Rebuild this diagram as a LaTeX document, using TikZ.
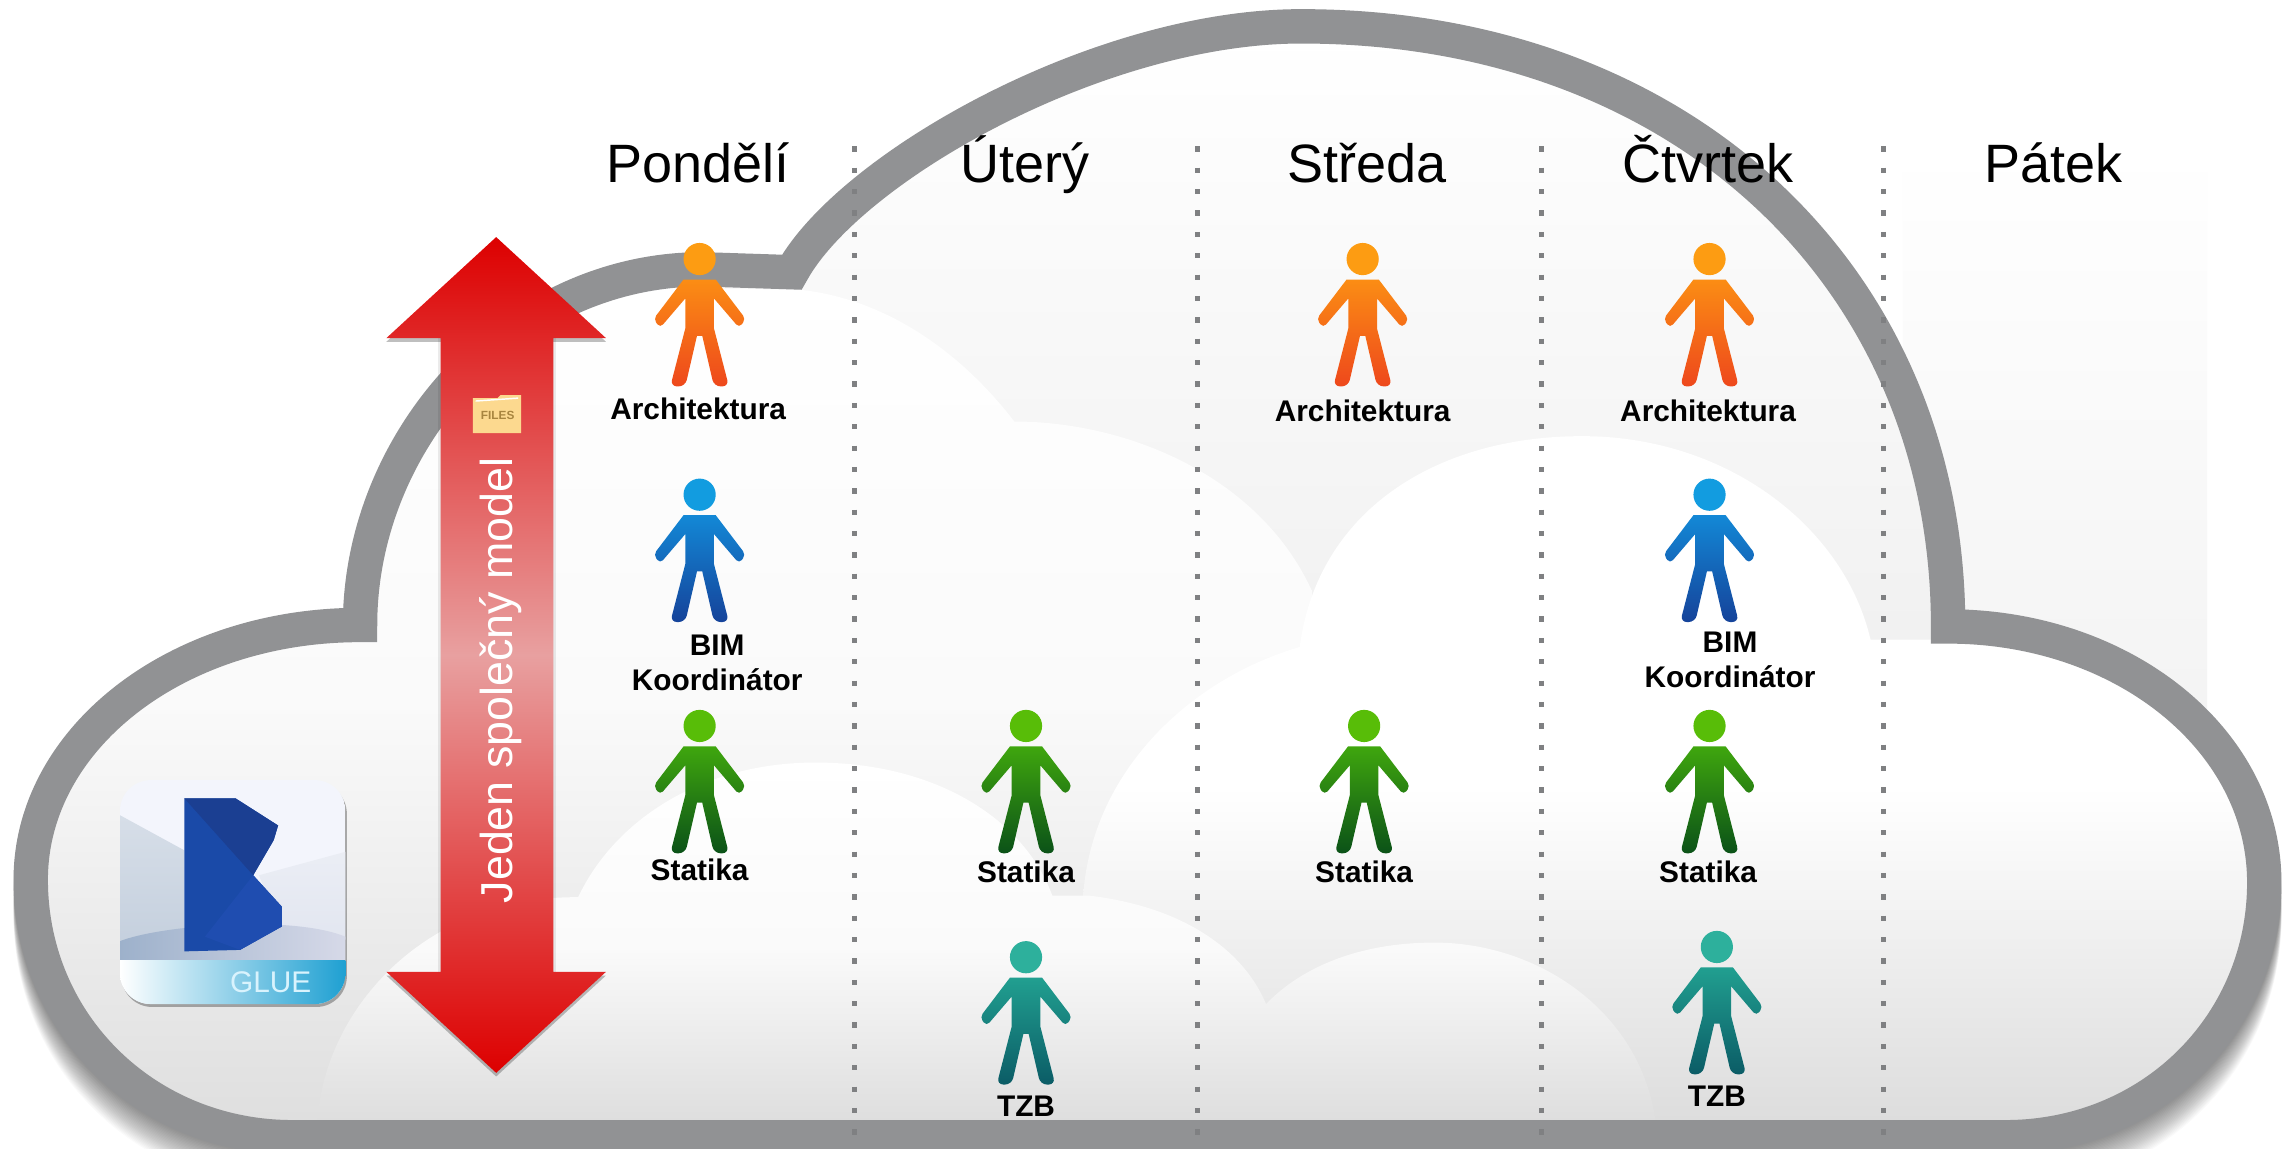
\documentclass[tikz,border=0pt]{standalone}
\usepackage{fontspec}
\setmainfont{Liberation Sans}
\usepackage{tikz}
\usetikzlibrary{positioning}

\definecolor{bandgray}{HTML}{919294}
\definecolor{dotgray}{HTML}{7F8082}
\definecolor{archhead}{HTML}{FD9C12}
\definecolor{archtop}{HTML}{FB8D14}
\definecolor{archbot}{HTML}{EE481C}
\definecolor{bimhead}{HTML}{129CE0}
\definecolor{bimtop}{HTML}{1388D6}
\definecolor{bimbot}{HTML}{15439A}
\definecolor{stathead}{HTML}{58BD08}
\definecolor{stattop}{HTML}{3FA60E}
\definecolor{statbot}{HTML}{0B5218}
\definecolor{tzbhead}{HTML}{2DB09C}
\definecolor{tzbtop}{HTML}{219F90}
\definecolor{tzbbot}{HTML}{0B5C66}
\definecolor{arrowred}{HTML}{DD0000}
\definecolor{arrowpale}{HTML}{E8A0A0}
\definecolor{foldertan}{HTML}{FCD98F}
\definecolor{filesbrown}{HTML}{A8853F}
\definecolor{gluedark}{HTML}{1B3F92}
\definecolor{gluemid}{HTML}{1A4AA8}
\definecolor{glueblue}{HTML}{1F4DB0}
\definecolor{iconback}{HTML}{F3F5FC}
\definecolor{iconleft}{HTML}{C5D0DE}
\definecolor{iconright}{HTML}{E2E6F0}
\definecolor{icondark}{HTML}{9DB1CB}
\definecolor{iconpale}{HTML}{D6D9E8}
\definecolor{iconstrip}{HTML}{1FA0D2}

\tikzset{
    heading/.style={font=\fontsize{10.5}{12}\selectfont, anchor=base},
    lbl/.style={font=\fontsize{5.8}{6.7}\selectfont\bfseries, align=center},
    band/.style={draw=bandgray, line width=2.35mm, miter limit=10}
}

\newcommand{\cloudpath}{(200,777) .. controls (100,777) and (21,700) .. (21,601)
    .. controls (21,505) and (120,427) .. (246,427)
    .. controls (246,300) and (350,184) .. (480,184) -- (541,186)
    .. controls (580,115) and (750,18) .. (889,18)
    .. controls (1150,18) and (1331,190) .. (1331,428)
    .. controls (1450,428) and (1547,505) .. (1547,603)
    .. controls (1547,700) and (1470,777) .. (1370,777) -- cycle}

% figure drawn around the centre of its head
\newcommand{\person}[3]{
    \begin{scope}[shift={(#1,#2)}]
        \fill[#3head] (0,0) circle[radius=1.1mm];
        \path[top color=#3top, bottom color=#3bot]
            (-11,14) -- (11,14)
            {[rounded corners=0.3mm] -- (31.5,41) -- (27,47)} -- (9.8,26.9) -- (9.8,47.4)
            {[rounded corners=0.45mm] -- (20,87) -- (9.8,87)} -- (1.8,52.4) -- (-1.8,52.4)
            {[rounded corners=0.45mm] -- (-9.8,87) -- (-20,87)} -- (-9.8,47.4) -- (-9.8,26.9)
            {[rounded corners=0.3mm] -- (-27,47) -- (-31.5,41)} -- cycle;
    \end{scope}
}

\begin{document}
\begin{tikzpicture}[x=0.1mm, y=-0.1mm]
    \clip (0,0) rectangle (1568,785);
    \fill[white] (0,0) rectangle (1568,785);

    \shade[top color=white, bottom color=black!6] (1300,100) rectangle (1508,620);

    % soft shadow of the cloud
    \foreach \k in {1,...,24}
    {
        \draw[band, draw=black, opacity=0.018, yshift=-\k*0.1mm] \cloudpath;
    }

    \begin{scope}
        \clip \cloudpath;
        \shade[top color=white, bottom color=black!11, middle color=black!5] (0,20) rectangle (1568,777);
        % upper white cloud
        \path[top color=white, bottom color=black!13, middle color=black!2]
            (0,777) -- (0,190) -- (547,198)
            .. controls (610,205) and (660,245) .. (693,288)
            .. controls (770,288) and (860,325) .. (896,403) -- (896,777) -- cycle;
        % right white cloud
        \path[top color=white, bottom color=black!14, middle color=white]
            (740,777) -- (740,613) .. controls (745,530) and (810,465) .. (888,442)
            .. controls (900,350) and (980,298) .. (1081,298)
            .. controls (1180,298) and (1260,360) .. (1278,437)
            -- (1568,437) -- (1568,777) -- cycle;
        % front white cloud
        \path[top color=white, bottom color=black!14, middle color=black!2]
            (217,777) -- (217,765) .. controls (222,690) and (290,612) .. (395,613)
            .. controls (420,560) and (480,521) .. (557,521)
            .. controls (640,521) and (700,560) .. (719,612) -- (745,612)
            .. controls (810,620) and (850,650) .. (865,686)
            .. controls (890,660) and (930,644) .. (980,644)
            .. controls (1050,644) and (1120,690) .. (1131,765) -- (1131,777) -- cycle;
    \end{scope}

    \draw[band] \cloudpath;

    % day columns
    \foreach \x in {584,818,1053,1287}
    {
        \draw[dotgray, line width=0.36mm, dash pattern=on 0.36mm off 1.1mm] (\x,100) -- (\x,785);
    }
    \foreach \x/\d/\n in {477/Pondělí/pon, 700/Úterý/ute, 934/Středa/str, 1167/Čtvrtek/ctv, 1403/Pátek/pat}
    {
        \node[heading] (\n) at (\x,125) {\d};
    }

    % double arrow
    \fill[black, opacity=0.25, yshift=-0.25mm] (339,162) -- (414,231) -- (264,231) -- cycle;
    \fill[black, opacity=0.25, yshift=-0.25mm] (264,664) -- (414,664) -- (339,733) -- cycle;
    \fill[black, opacity=0.08] (299,231) rectangle (380,664);
    \path[top color=arrowred, bottom color=arrowred, middle color=arrowpale]
        (339,162) -- (414,231) -- (378,231) -- (378,664) -- (414,664)
        -- (339,733) -- (264,664) -- (301,664) -- (301,231) -- (264,231) -- cycle;
    \node[rotate=90, white, font=\fontsize{8.7}{10}\selectfont] (model) at (342,465) {Jeden společný model};

    % folder
    \fill[foldertan] (323,272) -- (340,272) -- (342,270) -- (356,270) -- (356,296) -- (323,296) -- cycle;
    \draw[white, line width=0.1mm] (325,274) -- (354,272);
    \node[font=\fontsize{2.3}{3}\selectfont\bfseries, text=filesbrown] (files) at (340,284) {FILES};

    % program icon
    \fill[black, opacity=0.3, rounded corners=2.1mm] (83,535) rectangle (237,688);
    \begin{scope}
        \clip[rounded corners=2.1mm] (82,533) rectangle (236,686);
        \fill[iconback] (82,533) rectangle (236,686);
        \path[top color=iconleft!70!white, bottom color=iconleft] (82,557) -- (126,581) -- (126,640) -- (82,645) -- cycle;
        \path[top color=iconright!70!white, bottom color=iconright] (236,582) -- (177,598) -- (193,640) -- (236,642) -- cycle;
        \path[left color=icondark, right color=iconpale]
            (82,643) .. controls (110,632) and (200,625) .. (236,640) -- (236,658) -- (82,658) -- cycle;
        \path[left color=white, right color=iconstrip] (82,656) rectangle (236,686);
        \fill[gluemid] (126,545.5) -- (161,545.5) -- (190,564) -- (187,574) -- (173,598)
            -- (192.6,619.5) -- (192.6,633) -- (164,649) -- (126,650) -- cycle;
        \fill[gluedark] (126,545.5) -- (161,545.5) -- (190,564) -- (187,574) -- (173,598) -- cycle;
        \fill[glueblue] (173,598) -- (192.6,619.5) -- (192.6,633) -- (164,649) -- (140,640) -- cycle;
        \node[text=cyan!15!white, font=\fontsize{5.8}{7}\selectfont] (glue) at (185,671) {GLUE};
    \end{scope}

    % people
    \foreach \x/\y/\c in {478/177/arch, 931/177/arch, 1168/177/arch,
                          478/338/bim, 1168/338/bim,
                          478/496/stat, 701/496/stat, 932/496/stat, 1168/496/stat,
                          701/654/tzb, 1173/647/tzb}
    {
        \person{\x}{\y}{\c}
    }

    \foreach \x/\y/\t/\n in {477/279/Architektura/arch1, 931/281/Architektura/arch2, 1167/281/Architektura/arch3,
                             478/594/Statika/stat1, 701/596/Statika/stat2, 932/596/Statika/stat3, 1167/596/Statika/stat4,
                             701/756/TZB/tzb1, 1173/749/TZB/tzb2}
    {
        \node[lbl] (\n) at (\x,\y) {\t};
    }
    \node[lbl] (bim1) at (490,453) {BIM\\Koordinátor};
    \node[lbl] (bim2) at (1182,451) {BIM\\Koordinátor};
\end{tikzpicture}
\end{document}
